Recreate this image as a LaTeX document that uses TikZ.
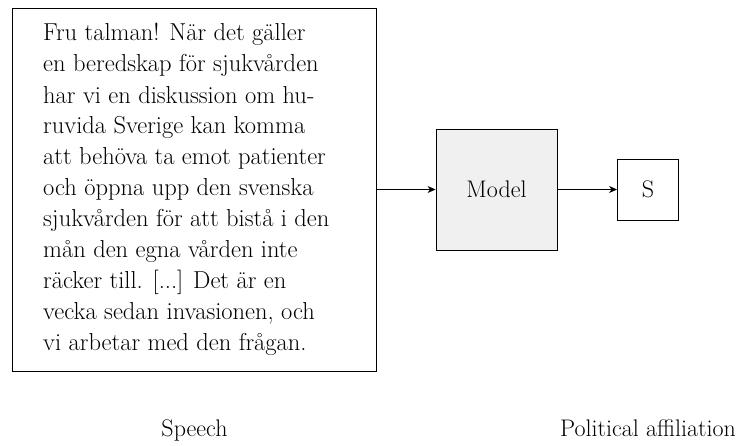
\documentclass[tikz,border=0pt]{standalone}
\usepackage{fontspec}
\usetikzlibrary{arrows.meta}
\begin{document}
\begin{tikzpicture}[x=1pt,y=-1pt,
  every node/.style={font=\fontsize{24}{31}\selectfont},
  frame/.style={draw=black, line width=0.9pt, inner sep=0pt},
  flow/.style={line width=0.9pt, -{Stealth[length=8pt,width=7pt,inset=2.5pt]}},
  caption/.style={anchor=base, inner sep=0pt}]
  \useasboundingbox (0,0) rectangle (740,446);

  % input text box (the multi-line node's base is its last line)
  \node[frame, minimum width=364pt, minimum height=363pt] (speech) at (194.5,189.5) {};
  \node[anchor=base west, align=left, inner sep=0pt,
        font=\fontsize{24.5}{31}\selectfont] (speechtext) at (43,351)
    {Fru talman! När det gäller\\
     en beredskap för sjukvården\\
     har vi en diskussion om hu-\\
     ruvida Sverige kan komma\\
     att behöva ta emot patienter\\
     och öppna upp den svenska\\
     sjukvården för att bistå i den\\
     mån den egna vården inte\\
     räcker till. [...] Det är en\\
     vecka sedan invasionen, och\\
     vi arbetar med den frågan.};

  % model and output
  \node[frame, fill=black!6, minimum width=121pt, minimum height=121pt] (model) at (496.5,189.5) {Model};
  \node[frame, minimum width=61pt, minimum height=61pt] (party) at (648,189.5) {S};

  \draw[flow] (speech.east) -- (model.west);
  \draw[flow] (model.east) -- (party.west);

  % captions
  \node[caption] (speechlabel) at (194.5,437) {Speech};
  \node[caption] (partylabel) at (648,437) {Political affiliation};
\end{tikzpicture}
\end{document}
